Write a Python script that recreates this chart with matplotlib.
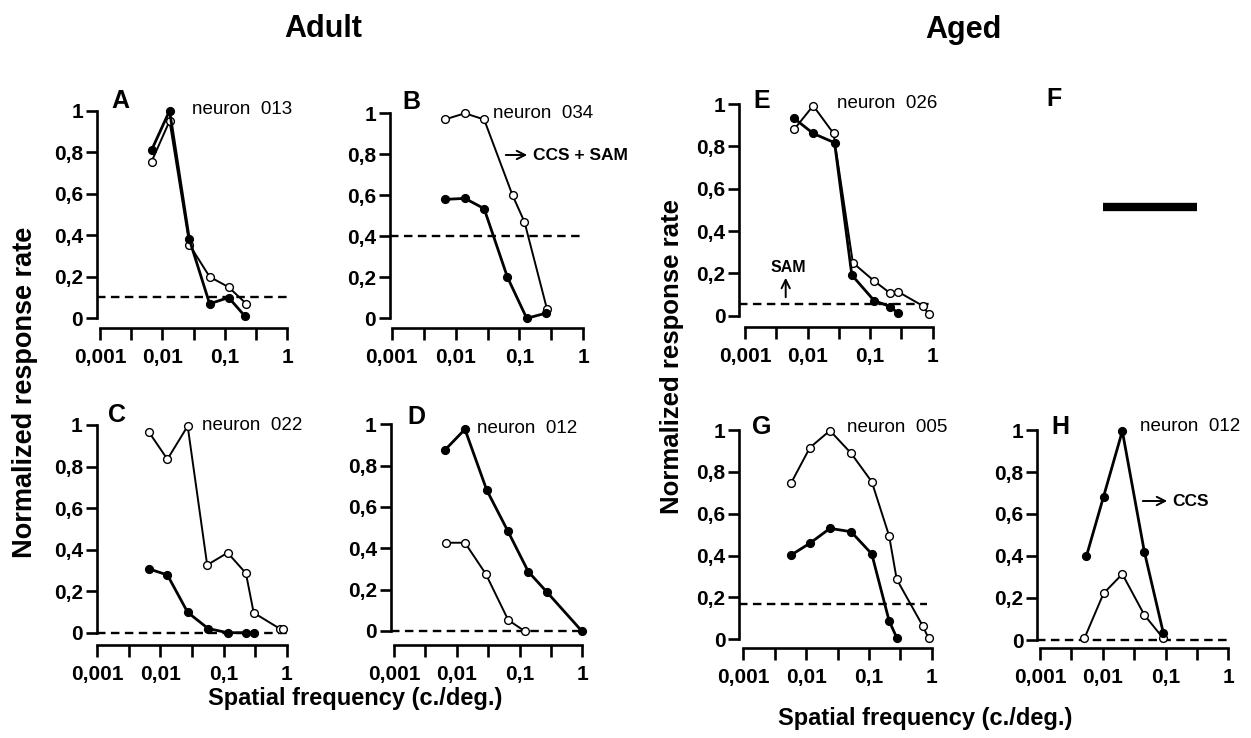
import matplotlib
matplotlib.use("Agg")
import matplotlib.pyplot as plt
from matplotlib.lines import Line2D
from matplotlib.patches import FancyArrowPatch
from matplotlib.ticker import FixedLocator, NullFormatter
import numpy as np

plt.rcParams['font.family'] = ['Liberation Sans', 'DejaVu Sans']

W, H = 1251, 738

# --- data (x in c./deg., y normalized response) ---
a_filled_x = [0.0067, 0.013, 0.027, 0.057, 0.115, 0.21]
a_filled_y = [0.81, 1.0, 0.38, 0.07, 0.10, 0.01]
a_open_x = [0.0067, 0.013, 0.027, 0.057, 0.115, 0.22]
a_open_y = [0.755, 0.95, 0.355, 0.20, 0.15, 0.07]

b_filled_x = [0.0068, 0.014, 0.028, 0.065, 0.13, 0.26]
b_filled_y = [0.58, 0.585, 0.535, 0.20, 0.0, 0.025]
b_open_x = [0.0068, 0.014, 0.028, 0.078, 0.12, 0.27]
b_open_y = [0.97, 1.0, 0.97, 0.60, 0.47, 0.045]

c_filled_x = [0.0066, 0.0129, 0.027, 0.057, 0.116, 0.226, 0.30]
c_filled_y = [0.307, 0.278, 0.098, 0.02, 0.0, 0.0, 0.0]
c_open_x = [0.0066, 0.0129, 0.027, 0.055, 0.116, 0.226, 0.30, 0.77, 0.88]
c_open_y = [0.965, 0.835, 0.995, 0.326, 0.385, 0.286, 0.096, 0.02, 0.02]

d_filled_x = [0.0065, 0.0135, 0.030, 0.065, 0.138, 0.27, 0.98]
d_filled_y = [0.876, 0.976, 0.682, 0.484, 0.287, 0.19, 0.0]
d_open_x = [0.0067, 0.0135, 0.029, 0.066, 0.12]
d_open_y = [0.427, 0.427, 0.276, 0.053, 0.0]

e_filled_x = [0.0061, 0.0123, 0.027, 0.051, 0.116, 0.21, 0.28]
e_filled_y = [0.932, 0.861, 0.817, 0.192, 0.071, 0.043, 0.011]
e_open_x = [0.0061, 0.0123, 0.026, 0.053, 0.116, 0.21, 0.28, 0.69, 0.87]
e_open_y = [0.88, 0.992, 0.861, 0.25, 0.164, 0.106, 0.113, 0.047, 0.006]

g_filled_x = [0.0058, 0.0115, 0.024, 0.052, 0.111, 0.21, 0.28]
g_filled_y = [0.403, 0.459, 0.53, 0.514, 0.408, 0.088, 0.005]
g_open_x = [0.0058, 0.0115, 0.024, 0.052, 0.111, 0.21, 0.277, 0.72, 0.89]
g_open_y = [0.748, 0.916, 0.997, 0.889, 0.753, 0.494, 0.287, 0.064, 0.005]

h_filled_x = [0.0055, 0.0103, 0.0205, 0.046, 0.092]
h_filled_y = [0.40, 0.683, 0.995, 0.42, 0.035]
h_open_x = [0.0051, 0.0103, 0.0205, 0.046, 0.092]
h_open_y = [0.008, 0.222, 0.314, 0.119, 0.008]

# threshold (dashed) levels and where they end on x
thresh = {'A': (0.104, 1.0), 'B': (0.40, 1.0), 'C': (0.0, 1.0), 'D': (0.0, 1.0),
          'E': (0.055, 1.0), 'G': (0.167, 0.85), 'H': (0.0, 1.0)}
neuron_ids = {'A': '013', 'B': '034', 'C': '022', 'D': '012',
              'E': '026', 'G': '005', 'H': '012'}

y_ticks = [0, 0.2, 0.4, 0.6, 0.8, 1]
y_ticklabels = ['0', '0,2', '0,4', '0,6', '0,8', '1']
x_ticks = [0.001, 0.01, 0.1, 1]
x_ticklabels = ['0,001', '0,01', '0,1', '1']

fig = plt.figure(figsize=(W / 100, H / 100), dpi=100)


def px(x, y):
    return x / W, 1 - y / H


def make_panel(yaxis, x001, x1, y1, y0, xspine):
    dec = (x1 - x001) / 3.0
    ax = fig.add_axes([yaxis / W, 1 - y0 / H, (x1 - yaxis) / W, (y0 - y1) / H])
    ax.set_xscale('log')
    ax.set_xlim(10 ** (-3 - (x001 - yaxis) / dec), 1)
    ax.set_ylim(0, 1)
    for s in ('top', 'right'):
        ax.spines[s].set_visible(False)
    ax.spines['left'].set_bounds(0, 1)
    ax.spines['bottom'].set_bounds(0.001, 1)
    ax.spines['bottom'].set_position(('outward', (xspine - y0) * 0.72))
    for s in ('left', 'bottom'):
        ax.spines[s].set_linewidth(1.9)
    ax.set_xticks(x_ticks)
    ax.set_xticklabels(x_ticklabels)
    ax.xaxis.set_minor_locator(FixedLocator(10 ** np.arange(-2.5, 0, 1)))
    ax.xaxis.set_minor_formatter(NullFormatter())
    ax.set_yticks(y_ticks)
    ax.set_yticklabels(y_ticklabels)
    ax.tick_params(axis='y', length=8, width=1.9, pad=2, labelsize=15)
    ax.tick_params(axis='x', which='both', length=8.5, width=1.9, pad=6, labelsize=15)
    for lab in ax.get_xticklabels() + ax.get_yticklabels():
        lab.set_fontweight('bold')
    ax.patch.set_alpha(0)
    return ax


def draw(ax, key, fx, fy, ox, oy):
    lvl, xend = thresh[key]
    ax.plot([ax.get_xlim()[0], xend], [lvl, lvl], ls=(0, (3.6, 2.3)), color='black',
            lw=1.7, clip_on=False, zorder=1)
    ax.plot(ox, oy, '-o', color='black', lw=1.4, ms=5.6, mfc='white', mec='black',
            mew=1.0, clip_on=False, zorder=2)
    ax.plot(fx, fy, '-o', color='black', lw=2.0, ms=5.6, mfc='black', mec='black',
            clip_on=False, zorder=3)


panels = [
    ('A', (97, 100, 287.3, 110.7, 318.3, 328.3), a_filled_x, a_filled_y, a_open_x, a_open_y,
     (120, 101), (191.7, 110)),
    ('B', (390, 391.7, 583.3, 113.3, 318.3, 328.3), b_filled_x, b_filled_y, b_open_x, b_open_y,
     (411.7, 101.7), (493.3, 113.3)),
    ('C', (96.7, 97.3, 286.7, 425, 632.7, 645), c_filled_x, c_filled_y, c_open_x, c_open_y,
     (116.7, 415), (201.7, 425)),
    ('D', (390.7, 394, 582.3, 424.3, 631, 645), d_filled_x, d_filled_y, d_open_x, d_open_y,
     (416.7, 416.7), (477.3, 428.3)),
    ('E', (739.3, 745, 932.7, 104, 315.7, 327.3), e_filled_x, e_filled_y, e_open_x, e_open_y,
     (761.7, 100.7), (836.7, 104)),
    ('G', (739.3, 743.3, 931.7, 430, 639.3, 648.3), g_filled_x, g_filled_y, g_open_x, g_open_y,
     (761.7, 426.7), (846.7, 427.3)),
    ('H', (1037.3, 1040, 1228.3, 430, 640, 648.3), h_filled_x, h_filled_y, h_open_x, h_open_y,
     (1060, 426.7), (1140, 426.7)),
]

for key, geom, fx, fy, ox, oy, letter_pos, neuron_pos in panels:
    ax = make_panel(*geom)
    draw(ax, key, fx, fy, ox, oy)
    fig.text(*px(*letter_pos), key, fontsize=18, fontweight='bold', ha='center', va='center')
    fig.text(*px(*neuron_pos), 'neuron  ' + neuron_ids[key], fontsize=13.5,
             ha='left', va='center')

# empty panel F with its bar
fig.text(*px(1054.5, 99.5), 'F', fontsize=18, fontweight='bold', ha='center', va='center')
fig.add_artist(Line2D([1103 / W, 1197 / W], [1 - 207 / H, 1 - 207 / H], color='black',
                      lw=6, solid_capstyle='butt'))

# annotations
arrow = dict(arrowstyle='->', color='black', lw=1.4, mutation_scale=15)
fig.add_artist(FancyArrowPatch(px(503, 155), px(530, 155), **arrow))
fig.text(*px(533, 155), 'CCS + SAM', fontsize=12.5, fontweight='bold', ha='left', va='center')
fig.add_artist(FancyArrowPatch(px(785.7, 300), px(785.7, 275), **arrow))
fig.text(*px(788, 268), 'SAM', fontsize=11.5, fontweight='bold', ha='center', va='center')
fig.add_artist(FancyArrowPatch(px(1140, 501), px(1170, 501), **arrow))
fig.text(*px(1172, 501), 'CCS', fontsize=12.5, fontweight='bold', ha='left', va='center')

# group titles and axis labels
fig.text(*px(323, 29), 'Adult', fontsize=22, fontweight='bold', ha='center', va='center')
fig.text(*px(963, 30), 'Aged', fontsize=22, fontweight='bold', ha='center', va='center')
fig.text(*px(25, 392), 'Normalized response rate', fontsize=19.5, fontweight='bold',
         rotation=90, ha='center', va='center')
fig.text(*px(672, 357), 'Normalized response rate', fontsize=18.5, fontweight='bold',
         rotation=90, ha='center', va='center')
fig.text(*px(355, 698), 'Spatial frequency (c./deg.)', fontsize=17, fontweight='bold',
         ha='center', va='center')
fig.text(*px(925, 719), 'Spatial frequency (c./deg.)', fontsize=17, fontweight='bold',
         ha='center', va='center')

fig.savefig('out.png', dpi=100)
